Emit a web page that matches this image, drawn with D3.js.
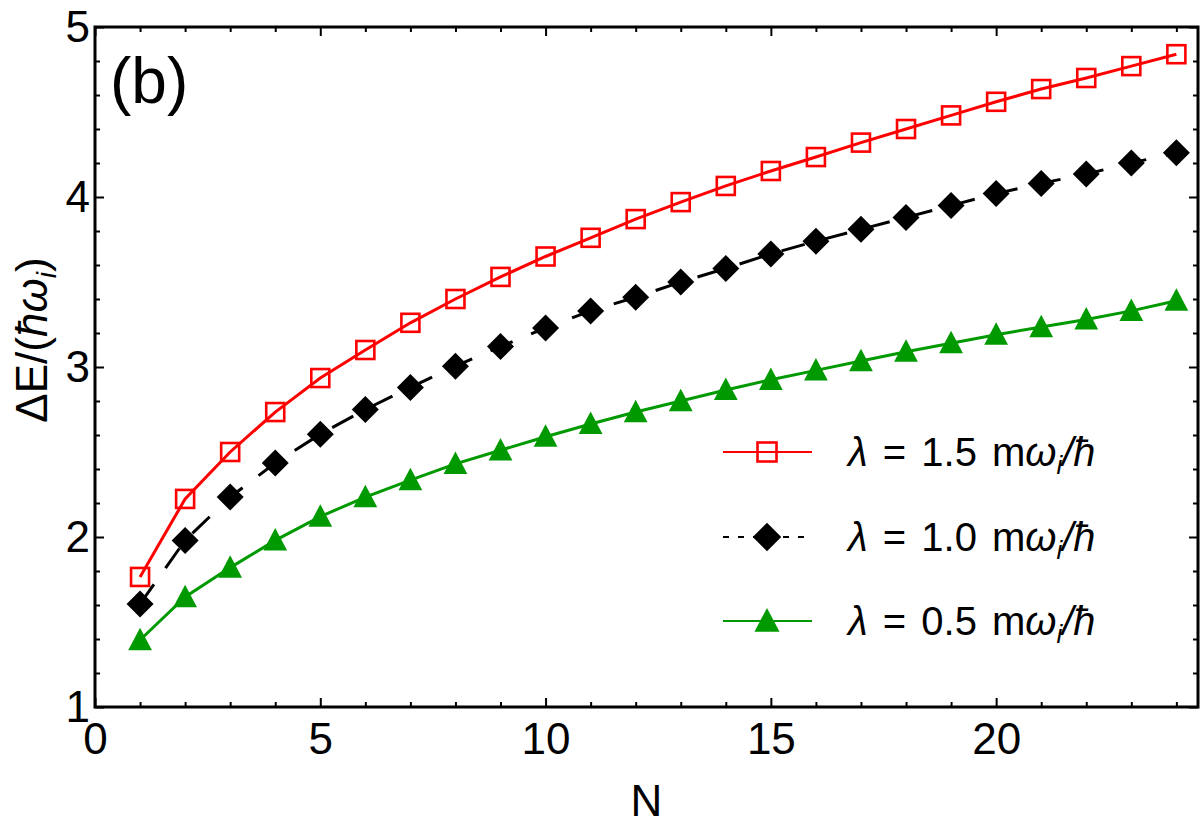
<!DOCTYPE html>
<html>
<head>
<meta charset="utf-8">
<script src="https://cdn.jsdelivr.net/npm/d3@7"></script>
<style>
  body { margin: 0; background: #fff; }
  text { font-family: "Liberation Sans", Arial, sans-serif; fill: #000; }
</style>
</head>
<body>
<svg id="chart"></svg>
<script>
const nValues = d3.range(1, 25);
const red15 = [1.765, 2.224, 2.50, 2.735, 2.935, 3.10, 3.26, 3.40, 3.53, 3.65, 3.76, 3.87,
  3.97, 4.065, 4.153, 4.235, 4.32, 4.40, 4.48, 4.56, 4.635, 4.70, 4.77, 4.84];
const black10 = [1.606, 1.98, 2.235, 2.435, 2.605, 2.75, 2.88, 3.005, 3.12, 3.23, 3.33, 3.41,
  3.50, 3.58, 3.665, 3.74, 3.81, 3.88, 3.95, 4.02, 4.08, 4.135, 4.20, 4.26];
const green05 = [1.394, 1.647, 1.82, 1.98, 2.12, 2.235, 2.335, 2.43, 2.51, 2.59, 2.665, 2.735,
  2.80, 2.865, 2.925, 2.98, 3.035, 3.09, 3.14, 3.19, 3.235, 3.28, 3.33, 3.39];
const lambdas = ['1.5', '1.0', '0.5'];
const xTicks = [0, 5, 10, 15, 20];
const yTicks = [1, 2, 3, 4, 5];

const width = 1200;
const height = 836;
const margin = { top: 27, right: 2, bottom: 129, left: 95 };

const svg = d3.select('#chart')
  .attr('width', width)
  .attr('height', height);

const xScale = d3.scaleLinear().domain([0, 24.48]).range([margin.left, width - margin.right]);
const yScale = d3.scaleLinear().domain([1, 5]).range([height - margin.bottom, margin.top]);

const series = [
  { values: red15, color: '#ff0000', marker: 'square', dash: null },
  { values: black10, color: '#000000', marker: 'diamond', dash: '24,20' },
  { values: green05, color: '#009a00', marker: 'triangle', dash: null }
];

// axes: major + minor, ticks pointing inward on all four sides
const minorX = d3.range(0, 25).filter(d => d % 5 !== 0);
const minorY = d3.range(1, 5.001, 0.2).filter(d => Math.abs(d - Math.round(d)) > 1e-6);

function styleAxis(g) {
  g.select('.domain').remove();
  g.selectAll('.tick line').attr('stroke', '#000').attr('stroke-width', 2);
  g.selectAll('.tick text').attr('font-size', 44).attr('fill', '#000');
}

const y0 = yScale(1);
const y1 = yScale(5);
const x0 = xScale.range()[0];
const x1 = xScale.range()[1];

svg.append('g').attr('transform', `translate(0,${y0})`)
  .call(d3.axisBottom(xScale).tickValues(xTicks).tickSize(-9).tickSizeOuter(0).tickPadding(16).tickFormat(d3.format('d')))
  .call(styleAxis);
svg.append('g').attr('transform', `translate(0,${y0})`)
  .call(d3.axisBottom(xScale).tickValues(minorX).tickSize(-5).tickSizeOuter(0).tickFormat(''))
  .call(styleAxis);
svg.append('g').attr('transform', `translate(0,${y1})`)
  .call(d3.axisTop(xScale).tickValues(xTicks).tickSize(-9).tickSizeOuter(0).tickFormat(''))
  .call(styleAxis);
svg.append('g').attr('transform', `translate(0,${y1})`)
  .call(d3.axisTop(xScale).tickValues(minorX).tickSize(-5).tickSizeOuter(0).tickFormat(''))
  .call(styleAxis);

svg.append('g').attr('transform', `translate(${x0},0)`)
  .call(d3.axisLeft(yScale).tickValues(yTicks).tickSize(-9).tickSizeOuter(0).tickPadding(5).tickFormat(d3.format('d')))
  .call(styleAxis);
svg.append('g').attr('transform', `translate(${x0},0)`)
  .call(d3.axisLeft(yScale).tickValues(minorY).tickSize(-5).tickSizeOuter(0).tickFormat(''))
  .call(styleAxis);
svg.append('g').attr('transform', `translate(${x1},0)`)
  .call(d3.axisRight(yScale).tickValues(yTicks).tickSize(-9).tickSizeOuter(0).tickFormat(''))
  .call(styleAxis);
svg.append('g').attr('transform', `translate(${x1},0)`)
  .call(d3.axisRight(yScale).tickValues(minorY).tickSize(-5).tickSizeOuter(0).tickFormat(''))
  .call(styleAxis);

// frame
svg.append('rect')
  .attr('x', x0).attr('y', y1)
  .attr('width', x1 - x0).attr('height', y0 - y1)
  .attr('fill', 'none').attr('stroke', '#000').attr('stroke-width', 3);

// markers
function drawMarker(g, type, color, size) {
  if (type === 'square') {
    g.append('rect')
      .attr('x', -size / 2).attr('y', -size / 2)
      .attr('width', size).attr('height', size)
      .attr('fill', 'none').attr('stroke', color).attr('stroke-width', 2.6);
  } else if (type === 'diamond') {
    const r = size * 0.75;
    g.append('path')
      .attr('d', `M0,${-r}L${r},0L0,${r}L${-r},0Z`)
      .attr('fill', color);
  } else {
    const w = size * 0.66;
    const h = size * 1.25;
    g.append('path')
      .attr('d', `M0,${-h * 0.55}L${w},${h * 0.45}L${-w},${h * 0.45}Z`)
      .attr('fill', color);
  }
}

const line = d3.line()
  .x(d => xScale(d.n))
  .y(d => yScale(d.v));

const plot = svg.append('g');
series.forEach(s => {
  const pts = nValues.map((n, i) => ({ n: n, v: s.values[i] }));
  plot.append('path')
    .datum(pts)
    .attr('d', line)
    .attr('fill', 'none')
    .attr('stroke', s.color)
    .attr('stroke-width', 3)
    .attr('stroke-dasharray', s.dash);
  plot.selectAll(null)
    .data(pts)
    .enter().append('g')
      .attr('transform', d => `translate(${xScale(d.n)},${yScale(d.v)})`)
      .each(function () { drawMarker(d3.select(this), s.marker, s.color, 18); });
});

// panel label
svg.append('text')
  .attr('x', 110).attr('y', 103)
  .attr('font-size', 64)
  .text('(b)');

// axis titles
svg.append('text')
  .attr('x', xScale(12.24)).attr('y', 816)
  .attr('text-anchor', 'middle')
  .attr('font-size', 44)
  .text('N');

const yTitle = svg.append('text')
  .attr('transform', `translate(47,340) rotate(-90)`)
  .attr('text-anchor', 'middle')
  .attr('font-size', 44);
yTitle.append('tspan').text('ΔE/(');
yTitle.append('tspan').attr('font-style', 'italic').text('ħω');
yTitle.append('tspan').attr('font-style', 'italic').attr('font-size', 28).attr('dy', 9).text('i');
yTitle.append('tspan').attr('dy', -9).text(')');

// legend
const legendRows = [452, 537, 621];
const legend = svg.append('g');
series.forEach((s, i) => {
  const row = legend.append('g').attr('transform', `translate(0,${legendRows[i]})`);
  row.append('line')
    .attr('x1', 723).attr('x2', 812)
    .attr('stroke', s.color).attr('stroke-width', 2)
    .attr('stroke-dasharray', s.dash ? '6,9' : null);
  const m = row.append('g').attr('transform', 'translate(767,0)');
  drawMarker(m, s.marker, s.color, 19);
  const t = row.append('text')
    .attr('x', 848).attr('y', 14)
    .attr('font-size', 40)
    .attr('word-spacing', 4);
  t.append('tspan').attr('font-style', 'italic').text('λ');
  t.append('tspan').text(` = ${lambdas[i]} m`);
  t.append('tspan').attr('font-style', 'italic').text('ω');
  t.append('tspan').attr('font-style', 'italic').attr('font-size', 26).attr('dy', 8).text('i');
  t.append('tspan').attr('font-style', 'italic').attr('dy', -8).text('/ħ');
});
</script>
</body>
</html>
